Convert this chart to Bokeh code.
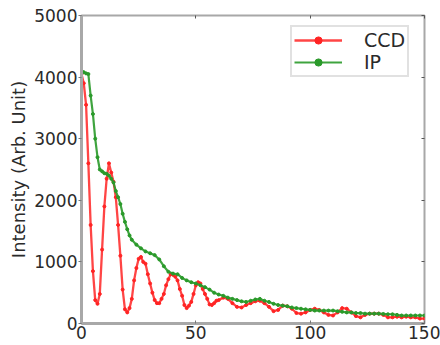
from bokeh.plotting import figure
from bokeh.models import LinearAxis, Range1d, Legend, LegendItem, FixedTicker, CustomJSTickFormatter
from bokeh.embed import file_html
from bokeh.resources import INLINE

ccd_x = [0, 1, 2, 3, 4, 5, 6, 7, 8, 9, 10, 11, 12, 13, 14, 15, 16, 17, 18, 19,
         20, 21, 22, 23, 24, 25, 26, 27, 28, 29, 30, 31, 32, 33, 34, 35, 36, 37, 38, 39,
         40, 41, 42, 43, 44, 45, 46, 47, 48, 49, 50, 51, 52, 53, 54, 55, 56, 57, 58, 59,
         60, 62, 64, 66, 68, 70, 72, 74, 76, 78, 80, 82, 84, 86, 88, 90, 92, 94, 96, 98,
         100, 102, 104, 106, 108, 110, 112, 114, 116, 118, 120, 122, 124, 126, 128, 130,
         132, 134, 136, 138, 140, 142, 144, 146, 148, 150]
ccd_y = [4050, 3900, 3550, 2600, 1600, 850, 380, 320, 480, 1200, 1900, 2350, 2600, 2450, 2300, 2050, 1600, 1100, 550, 230,
         180, 250, 400, 700, 900, 1050, 1080, 1000, 970, 800, 650, 500, 380, 330, 330, 400, 480, 620, 720, 800,
         790, 760, 700, 560, 450, 300, 250, 290, 350, 480, 620, 670, 650, 560, 480, 400, 310, 300, 330, 370,
         380, 420, 400, 330, 270, 260, 300, 330, 360, 370, 330, 270, 200, 220, 290, 280, 240, 170, 160, 180,
         220, 240, 220, 180, 140, 130, 180, 250, 240, 180, 120, 100, 140, 160, 160, 160,
         140, 100, 100, 110, 100, 110, 100, 100, 80, 80]

ip_x = [0, 1, 2, 3, 4, 5, 6, 7, 8, 9, 10, 11, 12, 13, 14, 15, 16, 17, 18, 19, 20, 21, 22,
        24, 26, 28, 30, 32, 34, 36, 38, 40, 42, 44, 46, 48, 50, 52, 54, 56, 58, 60,
        62, 64, 66, 68, 70, 72, 74, 76, 78, 80, 82, 84, 86, 88, 90, 92, 94, 96, 98, 100,
        102, 104, 106, 108, 110, 112, 114, 116, 118, 120, 122, 124, 126, 128, 130,
        132, 134, 136, 138, 140, 142, 144, 146, 148, 150]
ip_y = [4100, 4080, 4060, 4050, 3700, 3400, 3000, 2700, 2500, 2470, 2440, 2430, 2400, 2350, 2290, 2150, 2050, 1940, 1780, 1650, 1530, 1430, 1360,
        1280, 1220, 1170, 1140, 1110, 1040, 930, 840, 810, 800, 740, 700, 670, 650, 620, 590, 550, 500, 470,
        450, 420, 400, 380, 360, 350, 370, 390, 400, 370, 350, 320, 300, 290, 280, 260, 250, 240, 230, 220,
        210, 210, 210, 210, 210, 200, 190, 180, 180, 170, 170, 160, 160, 160, 160,
        155, 150, 150, 140, 130, 130, 130, 130, 130, 130]

x_ticks = [0, 50, 100, 150]
y_ticks = [0, 1000, 2000, 3000, 4000, 5000]

FONT = "DejaVu Sans"
AX = "#a8a8a8"
TXT = "#2a2a2a"

p = figure(width=440, height=345, output_backend="svg", toolbar_location=None,
           x_range=Range1d(0, 150), y_range=Range1d(0, 5000),
           min_border_left=81, min_border_right=16, min_border_top=15, min_border_bottom=22)
p.grid.visible = False
p.outline_line_color = AX
p.outline_line_width = 2
p.background_fill_color = "white"
p.border_fill_color = "white"

for ax in [p.xaxis[0], p.yaxis[0]]:
    ax.axis_line_color = AX
    ax.axis_line_width = 3
    ax.major_tick_line_color = "#777777"
    ax.minor_tick_line_color = None
    ax.major_label_text_font = FONT
    ax.major_label_text_font_size = "17px"
    ax.major_label_text_color = TXT
p.xaxis[0].major_label_standoff = 2
p.yaxis[0].major_label_standoff = 1
p.xaxis[0].major_tick_in = 3
p.xaxis[0].major_tick_out = 0
p.yaxis[0].major_tick_in = 0
p.yaxis[0].major_tick_out = 3
p.xaxis[0].ticker = FixedTicker(ticks=x_ticks)
p.yaxis[0].ticker = FixedTicker(ticks=y_ticks)
p.yaxis[0].axis_label = "Intensity (Arb. Unit)"
p.yaxis[0].axis_label_text_font = FONT
p.yaxis[0].axis_label_text_font_style = "normal"
p.yaxis[0].axis_label_text_font_size = "18px"
p.yaxis[0].axis_label_text_color = TXT
p.yaxis[0].axis_label_standoff = 2

blank = CustomJSTickFormatter(code="return ''")
top = LinearAxis(ticker=FixedTicker(ticks=x_ticks), formatter=blank,
                 axis_line_color=None, major_tick_in=3, major_tick_out=0,
                 major_label_standoff=0,
                 major_tick_line_color="#555555", minor_tick_line_color=None)
right = LinearAxis(ticker=FixedTicker(ticks=y_ticks), formatter=blank,
                   axis_line_color=None, major_tick_in=3, major_tick_out=0,
                   major_label_standoff=0,
                   major_tick_line_color="#555555", minor_tick_line_color=None)
p.add_layout(top, "above")
p.add_layout(right, "right")

RED = "#ff2424"
GREEN = "#2a9a2a"
r1 = p.line(ccd_x, ccd_y, line_color=RED, line_width=2.3, line_alpha=0.85)
m1 = p.scatter(ccd_x, ccd_y, size=3, color=RED)
r2 = p.line(ip_x, ip_y, line_color=GREEN, line_width=2.2, line_alpha=0.9)
m2 = p.scatter(ip_x, ip_y, size=3, color=GREEN)

legend = Legend(items=[LegendItem(label="CCD", renderers=[r1, m1]),
                       LegendItem(label="IP", renderers=[r2, m2])],
                location=(209, 246))
legend.label_text_font = FONT
legend.label_text_font_size = "19px"
legend.label_text_color = TXT
legend.border_line_color = "#c4c4c4"
legend.border_line_width = 2
legend.glyph_width = 48
legend.glyph_height = 18
legend.label_height = 18
legend.label_standoff = 22
legend.spacing = 0
legend.padding = 2
legend.margin = 0
p.add_layout(legend, "center")

open("out.html", "w").write(file_html(p, INLINE))
